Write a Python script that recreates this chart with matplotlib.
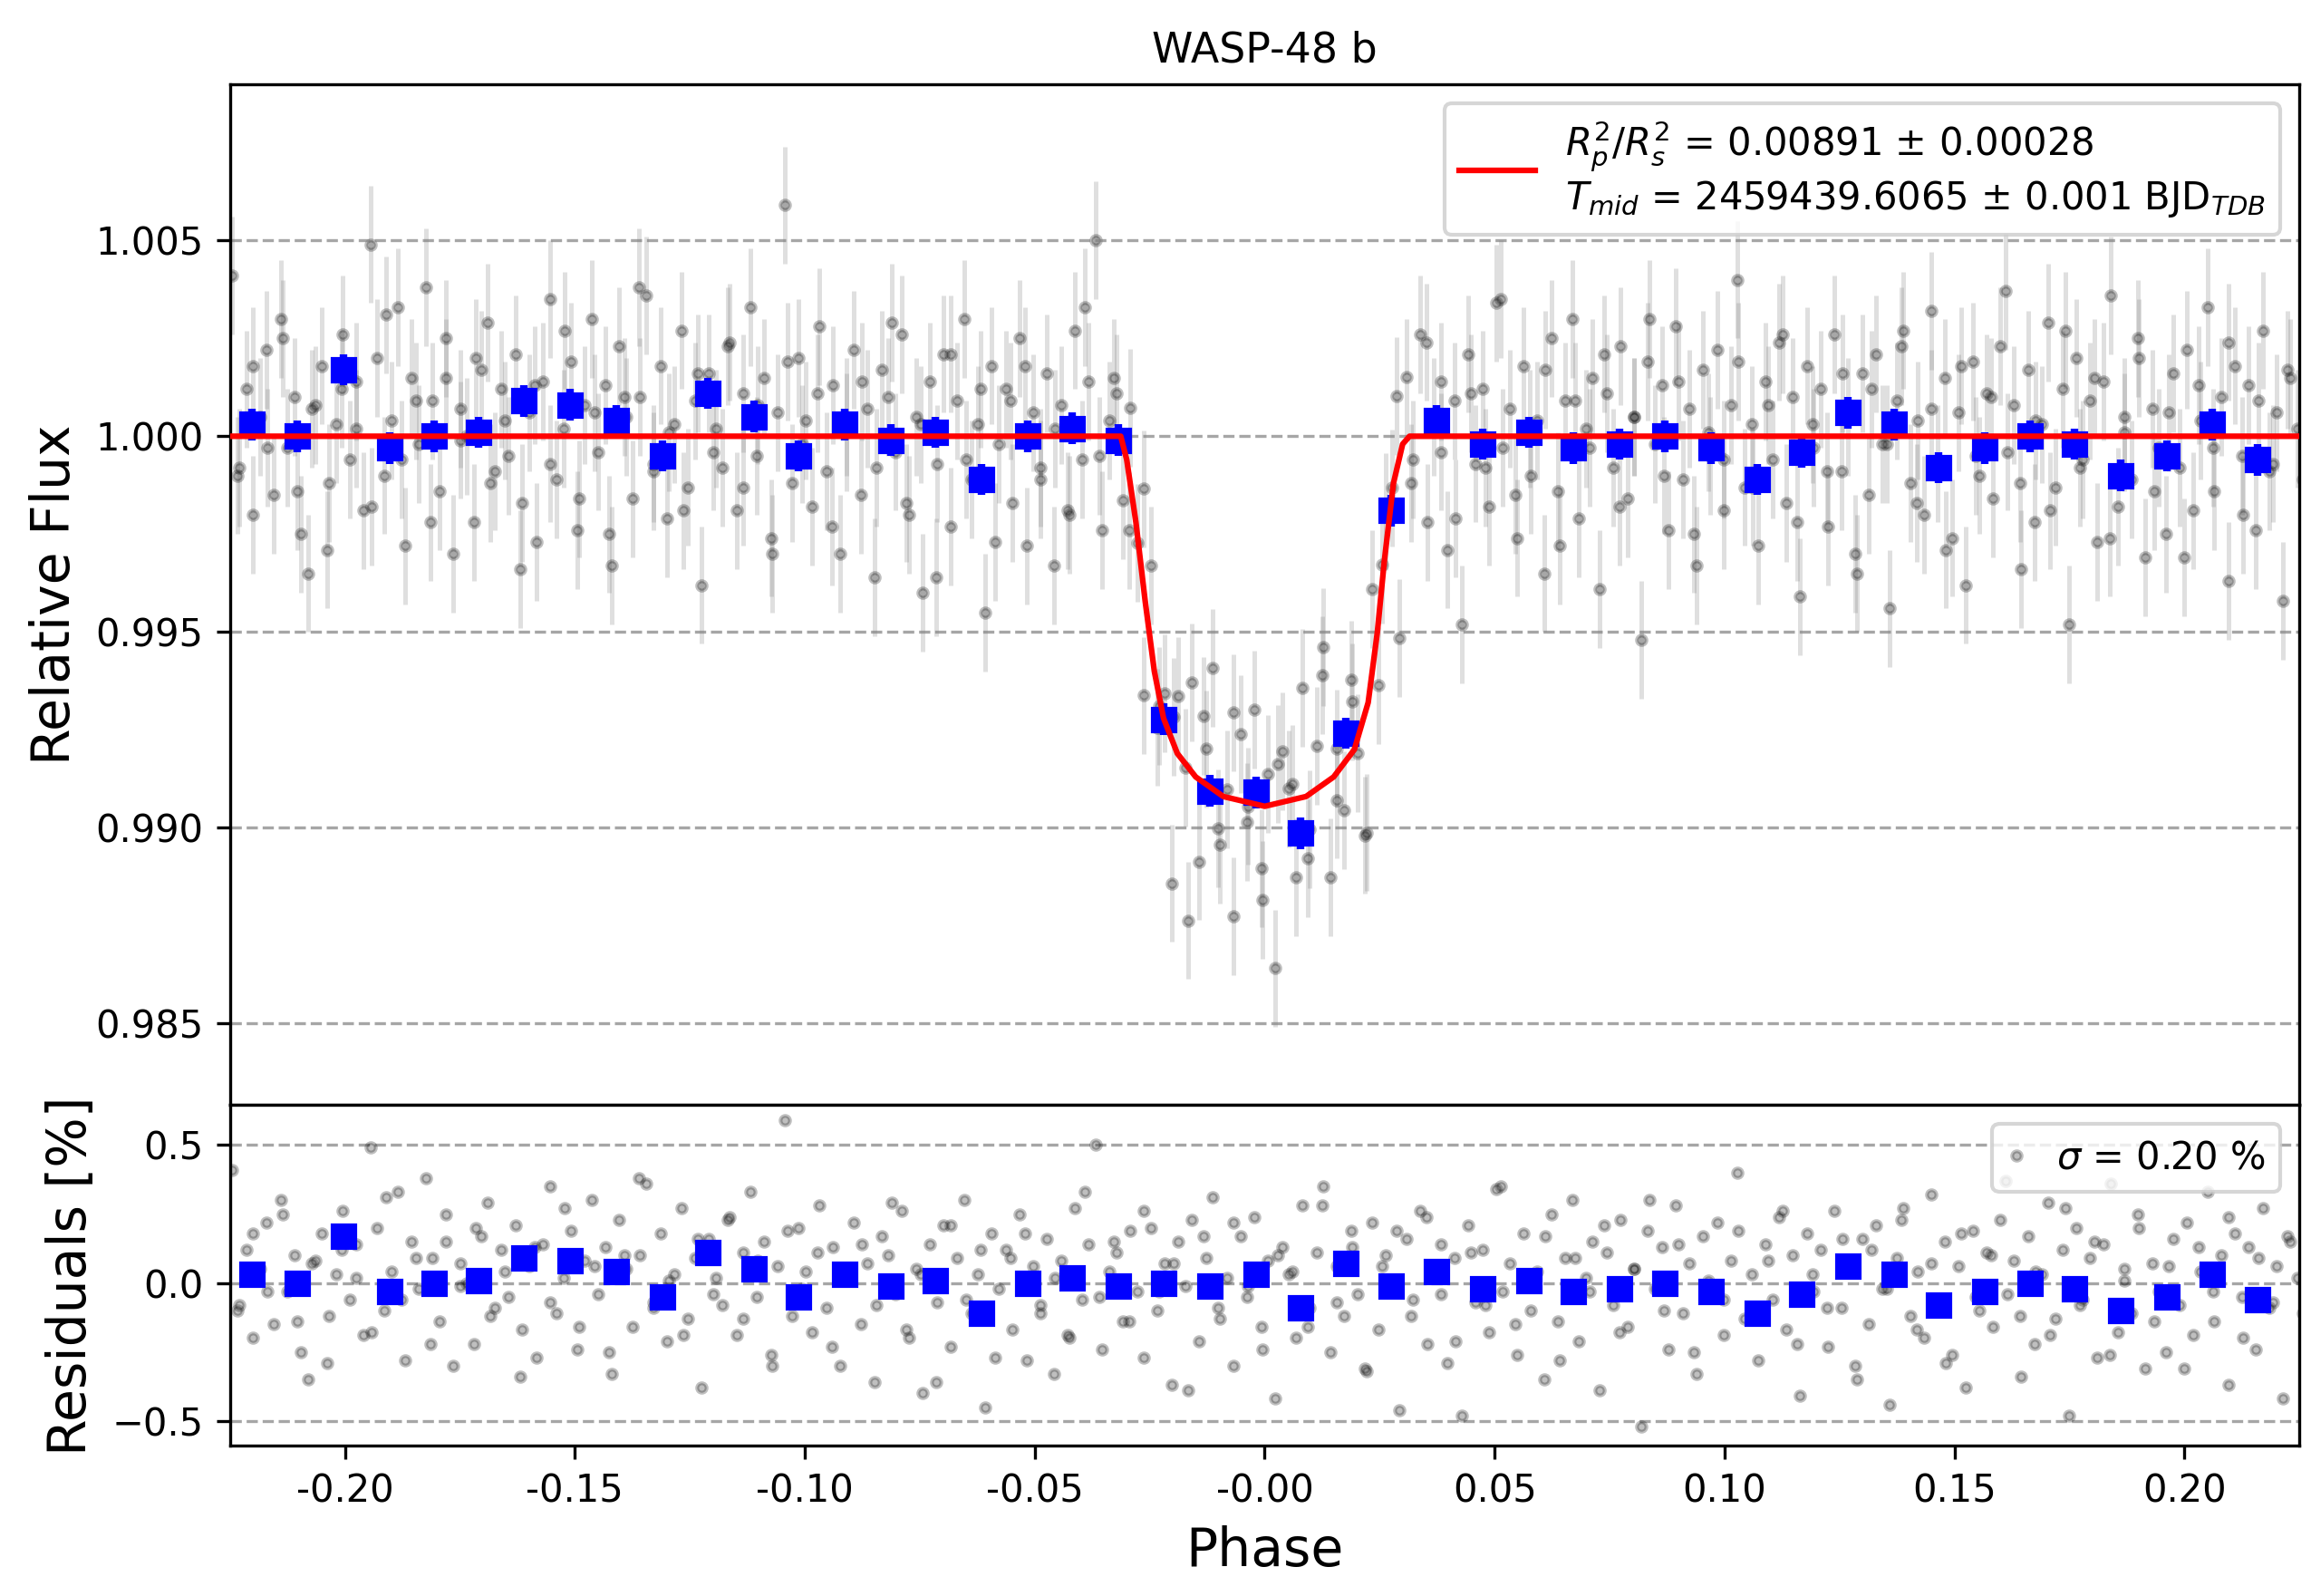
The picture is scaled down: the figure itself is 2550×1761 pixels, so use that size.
import numpy as np
import matplotlib
matplotlib.use("Agg")
import matplotlib.pyplot as plt

# binned points (phase, residual in %)
bin_phase = [-0.2203,-0.2103,-0.2003,-0.1903,-0.1806,-0.1710,-0.1610,-0.1510,-0.1410,-0.1310,-0.1210,-0.1110,-0.1013,-0.0913,-0.0813,-0.0716,-0.0616,-0.0516,-0.0419,-0.0319,-0.0219,-0.0119,-0.0019,0.0077,0.0177,0.0274,0.0374,0.0474,0.0574,0.0671,0.0771,0.0871,0.0971,0.1071,0.1168,0.1268,0.1368,0.1465,0.1565,0.1665,0.1761,0.1861,0.1961,0.2061,0.2158]
bin_resid = [0.03,0.0,0.17,-0.03,0.0,0.01,0.09,0.08,0.04,-0.05,0.11,0.05,-0.05,0.03,-0.01,0.01,-0.11,0.0,0.02,-0.01,0.0,-0.01,0.03,-0.09,0.07,-0.01,0.04,-0.02,0.01,-0.03,-0.02,0.0,-0.03,-0.11,-0.04,0.06,0.03,-0.08,-0.03,0.0,-0.02,-0.1,-0.05,0.03,-0.06]

# transit model vertices
model_phase = [-0.225,-0.0313,-0.0300,-0.0280,-0.0260,-0.0240,-0.0220,-0.0190,-0.0150,-0.0090,0.0,0.0090,0.0150,0.0195,0.0225,0.0245,0.0260,0.0280,0.0300,0.0315,0.225]
model_flux = [1.0,1.0,0.9994,0.9978,0.9958,0.9940,0.9928,0.9919,0.9913,0.9908,0.99055,0.9908,0.9913,0.9920,0.9932,0.9950,0.9968,0.9988,0.9998,1.0,1.0]

# raw residuals, units of 0.01 %
raw_resid_a = [
 41,-8,12,-20,5,22,-15,30,-3,10,-25,-35,8,18,-12,3,26,-6,14,-19,
 49,20,-10,4,33,-28,15,-2,38,9,-14,25,-30,7,0,-22,17,29,-9,12,
 -5,21,-17,6,-27,14,35,-11,2,19,-24,8,30,-4,13,-33,23,5,-16,10,
 36,-7,18,-21,3,27,-13,9,-38,16,2,-8,24,-19,11,33,-5,15,-26,6,
 59,-12,20,4,-18,28,-9,13,-30,1,22,-15,7,-36,17,10,-4,26,-20,5,
 -40,14,-7,21,-23,9,30,-11,3,-45,18,-2,12,-17,25,-28,6,-8,16,-33,
 8,-19,27,-6,14,50,-24,4,11,-14,19,-3,-27,20,-10,7,-37,15,-1,23,
 -21,9,31,-13,2,-30,17,-5,24,-16,8,-42,13,3,-20,28,-9,11,35,-25,
 6,-12,19,-4,-31,22,-17,10,1,-46,16,-6,26,-22,5,14,-29,9,-48,21,
 -7,12,-18,34,-3,7,-26,18,-10,4,-35,25,-14,9,30,-21,2,15,-39,11,
 -8,23,-16,5,-52,19,-2,13,-24,28,-11,7,-33,17,-5,22,-19,8,40,-13,
 3,-28,14,-6,24,-17,10,-41,18,-3,12,-23,26,-9,5,-30,16,-15,21,-2,
 -44,9,27,-12,4,-20,32,-7,15,-26,6,-38,19,-10,11,-16,23,-4,8,-34,
 17,-22,3,29,-13,12,-48,20,-6,9,-27,14,36,-18,5,-11,25,-31,7,-3,
 -25,16,-8,22,-19,4,33,-14,10,-37,18,-5,13,-24,27,-9,6,-42,15,2]
raw_resid_b = [
 -10,18,-3,25,-14,7,-29,12,2,-18,31,-6,9,-22,15,-1,20,-12,4,-34,
 13,-7,27,-16,6,-25,10,38,-9,1,-19,16,-4,23,-13,8,-30,19,-2,11,
 -23,5,14,-8,29,-17,3,-36,21,-6,12,-27,9,18,-11,2,-20,33,-5,15,
 -14,26,-3,7,-39,17,-9,22,-1,-24,10,4,-16,28,-7,13,-32,6,19,-12,
 24,-4,-21,11,-8,35,-15,2,17,-28,9,-3,21,-18,5,30,-10,14,-25,1,
 -6,19,-13,8,26,-22,3,-9,16,-35,12,-2,23,-17,7,-29,18,-5,10,37,
 -12,4,-19,27,-8,15,-26,1,20,-14,6,-31,13,-3,24,-20,9,-7,17,-11]

ph_edges = [-0.225, 0.225]
ra = np.linspace(-0.2245, 0.2245, len(raw_resid_a))
rb = np.linspace(-0.2240, 0.2250, len(raw_resid_b)) + 0.0007
raw_phase = np.concatenate([ra, rb])
resid = np.array(raw_resid_a + raw_resid_b) / 100.0
raw_flux = np.interp(raw_phase, model_phase, model_flux) + resid / 100.0
bp = np.array(bin_phase)
bin_flux = np.interp(bp, model_phase, model_flux) + np.array(bin_resid) / 100.0

fig = plt.figure(figsize=(8.5, 5.87), dpi=300)
ax1 = fig.add_axes([0.0995, 0.3076, 0.8955, 0.6394])
ax2 = fig.add_axes([0.0995, 0.094, 0.8955, 0.2136], sharex=ax1)

ax1.errorbar(raw_phase, raw_flux, yerr=0.0015, fmt='o', color='black', ms=2.5,
             alpha=0.25, ecolor='gray', elinewidth=1.2, zorder=1)
ax1.errorbar(bp, bin_flux, yerr=0.0004, fmt='s', color='blue', ms=6,
             ecolor='blue', elinewidth=2, zorder=3)
ax1.plot(model_phase, model_flux, color='red', lw=1.5, zorder=4,
         label='$R_p^2/R_s^2$ = 0.00891 ± 0.00028\n$T_{mid}$ = 2459439.6065 ± 0.001 BJD$_{TDB}$')
ax1.set_ylim(0.98292, 1.00898)
ax1.set_yticks([0.985, 0.990, 0.995, 1.000, 1.005])
ax1.grid(axis='y', ls='--', color='gray', alpha=0.7)
ax1.set_ylabel('Relative Flux', fontsize=14)
ax1.set_title('WASP-48 b', fontsize=11)
ax1.legend(loc='upper right', fontsize=10)
plt.setp(ax1.get_xticklabels(), visible=False)
ax1.tick_params(axis='x', length=0)

ax2.plot(raw_phase, resid, 'o', color='black', ms=2.5, alpha=0.25,
         label=r'$\sigma$ = 0.20 %')
ax2.plot(bp, bin_resid, 's', color='blue', ms=6)
ax2.set_ylim(-0.591, 0.645)
ax2.set_yticks([-0.5, 0.0, 0.5])
ax2.grid(axis='y', ls='--', color='gray', alpha=0.7)
ax2.set_ylabel('Residuals [%]', fontsize=14)
ax2.set_xlabel('Phase', fontsize=14)
ax2.set_xlim(*ph_edges)
ax2.set_xticks(np.arange(-0.20, 0.201, 0.05))
ax2.xaxis.set_major_formatter(matplotlib.ticker.FormatStrFormatter('%.2f'))
ax2.legend(loc='upper right', fontsize=10, handlelength=0.5)

fig.savefig('out.png', dpi=300)
